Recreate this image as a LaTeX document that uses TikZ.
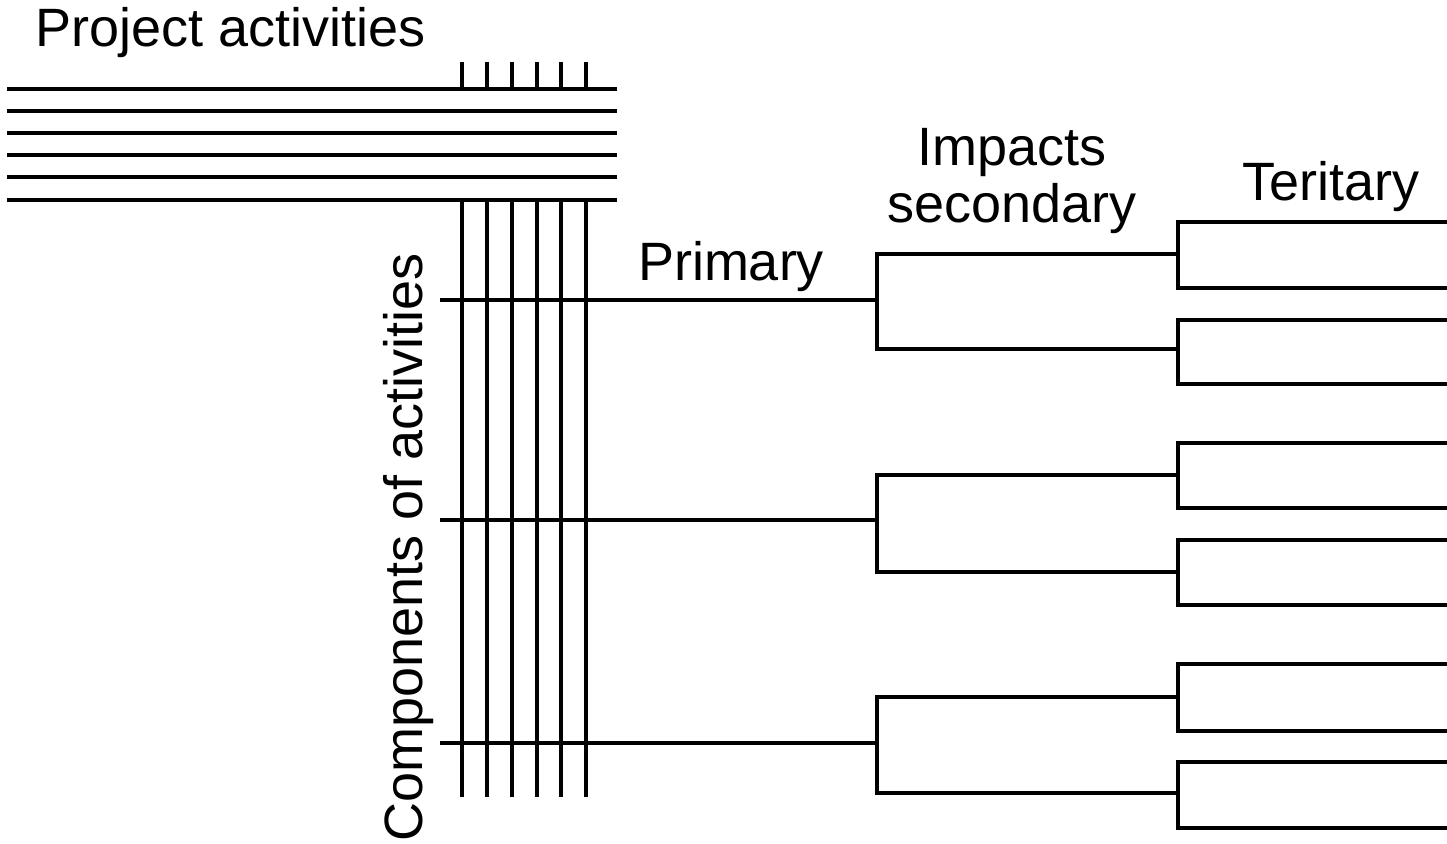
\documentclass[tikz,border=0pt]{standalone}
\usepackage{fontspec}
\setmainfont{Liberation Sans}
\begin{document}
\begin{tikzpicture}[x=1pt,y=-1pt,
  ln/.style={line width=3.2pt,line cap=butt},
  lbl/.style={font=\fontsize{54}{60}\selectfont,inner sep=0pt}]
\useasboundingbox (0,0) rectangle (1447,843);
% labels
\node[lbl,anchor=base west] (pa) at (35,47) {Project activities};
\node[lbl,anchor=base west,rotate=90] (ca) at (422,842) {Components of activities};
\node[lbl,anchor=base] (pr) at (731,280) {Primary};
\node[lbl,anchor=base] (im) at (1012,165) {Impacts};
\node[lbl,anchor=base] (se) at (1012,222) {secondary};
\node[lbl,anchor=base] (te) at (1331,200) {Teritary};
% project activity lines
\foreach \y [count=\i] in {89,111,133,155,177,200}{
  \coordinate (hl\i) at (7,\y);
  \coordinate (hr\i) at (617,\y);
  \draw[ln] (hl\i) -- (hr\i);
}
% component lines
\foreach \x [count=\i] in {462,487,512,537,561,586}{
  \coordinate (tt\i) at (\x,62);
  \coordinate (tb\i) at (\x,89);
  \coordinate (vt\i) at (\x,200);
  \coordinate (vb\i) at (\x,797);
  \draw[ln] (tt\i) -- (tb\i);
  \draw[ln] (vt\i) -- (vb\i);
}
% impact trees
\foreach \r/\ra/\rb/\aa/\ab/\ba/\bb [count=\i] in
  {300/254/349/222/288/320/384,
   520/475/572/443/508/540/605,
   743/697/793/664/731/762/828}{
  \coordinate (rs\i) at (440,\r);
  \coordinate (rp\i) at (877,\r);
  \coordinate (pa\i) at (877,\ra);
  \coordinate (pb\i) at (877,\rb);
  \coordinate (sa\i) at (1178,\ra);
  \coordinate (sb\i) at (1178,\rb);
  \coordinate (saa\i) at (1178,\aa);
  \coordinate (sab\i) at (1178,\ab);
  \coordinate (sba\i) at (1178,\ba);
  \coordinate (sbb\i) at (1178,\bb);
  \coordinate (taa\i) at (1447,\aa);
  \coordinate (tab\i) at (1447,\ab);
  \coordinate (tba\i) at (1447,\ba);
  \coordinate (tbb\i) at (1447,\bb);
  \draw[ln] (rs\i) -- (rp\i);
  \draw[ln] (sa\i) -- (pa\i) -- (pb\i) -- (sb\i);
  \draw[ln] (taa\i) -- (saa\i) -- (sab\i) -- (tab\i);
  \draw[ln] (tba\i) -- (sba\i) -- (sbb\i) -- (tbb\i);
}
\end{tikzpicture}
\end{document}
